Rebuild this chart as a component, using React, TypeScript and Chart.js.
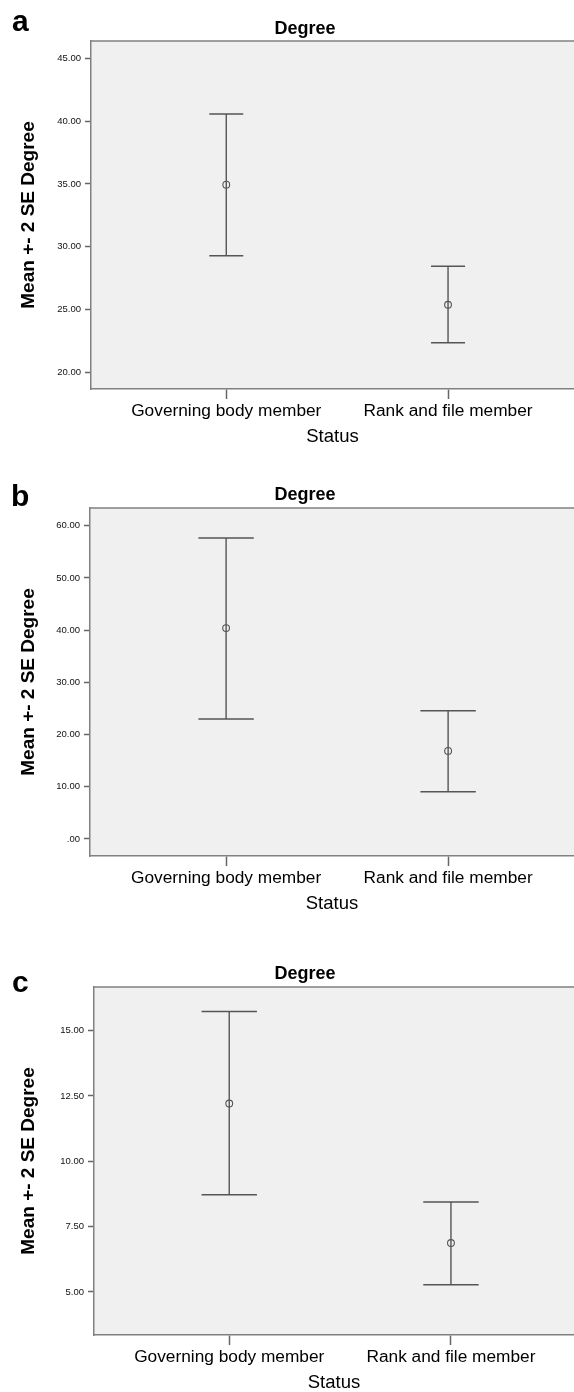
import React, { useEffect, useRef } from "react";
import { Chart, registerables } from "chart.js";

Chart.register(...registerables);

const FONT = "'Liberation Sans', Arial, Helvetica, sans-serif";
Chart.defaults.font.family = FONT;

// ---------- data ----------
const categories = ["Governing body member", "Rank and file member"];

const meanA = [34.94, 25.38];
const upperA = [40.57, 28.44];
const lowerA = [29.28, 22.36];
const ticksA = [20, 25, 30, 35, 40, 45];

const meanB = [40.39, 16.87];
const upperB = [57.64, 24.54];
const lowerB = [23.0, 9.07];
const ticksB = [0, 10, 20, 30, 40, 50, 60];

const meanC = [12.21, 6.87];
const upperC = [15.73, 8.44];
const lowerC = [8.72, 5.27];
const ticksC = [5, 7.5, 10, 12.5, 15];

const panelTitle = "Degree";
const yTitle = "Mean +- 2 SE Degree";
const xTitle = "Status";

// ---------- layout / style ----------
const LINE = "#555555";
const AXIS = "#808080";

type Panel = {
  letter: string;
  mean: number[];
  upper: number[];
  lower: number[];
  ticks: number[];
  yMin: number;
  yMax: number;
  xMin: number;
  xMax: number;
  height: number;
  padTop: number;
  padBottom: number;
  yWidth: number;
  capHalf: number;
  titleY: number;
  letterX: number;
  letterY: number;
};

const panels: Panel[] = [
  {
    letter: "a", mean: meanA, upper: upperA, lower: lowerA, ticks: ticksA,
    yMin: 18.67, yMax: 46.38, xMin: 0.39, xMax: 2.568,
    height: 465, padTop: 41, padBottom: 19, yWidth: 91, capHalf: 17,
    titleY: 33.5, letterX: 12, letterY: 30.7,
  },
  {
    letter: "b", mean: meanB, upper: upperB, lower: lowerB, ticks: ticksB,
    yMin: -3.26, yMax: 63.4, xMin: 0.387, xMax: 2.567,
    height: 477, padTop: 43, padBottom: 29, yWidth: 90, capHalf: 27.7,
    titleY: 35, letterX: 11, letterY: 41,
  },
  {
    letter: "c", mean: meanC, upper: upperC, lower: lowerC, ticks: ticksC,
    yMin: 3.35, yMax: 16.67, xMin: 0.39, xMax: 2.555,
    height: 450, padTop: 45, padBottom: 0, yWidth: 94, capHalf: 27.7,
    titleY: 37.3, letterX: 12, letterY: 49.7,
  },
];

const fmt = (v: number) => {
  const s = Number(v).toFixed(2);
  return s.startsWith("0.") ? s.slice(1) : s;
};

const panelDecor = {
  id: "panelDecor",
  beforeDraw(chart: any) {
    const { ctx, chartArea } = chart;
    ctx.save();
    ctx.fillStyle = "#f0f0f0";
    ctx.fillRect(chartArea.left, chartArea.top, chartArea.right - chartArea.left, chartArea.bottom - chartArea.top);
    ctx.restore();
  },
  afterDraw(chart: any, _args: any, opts: any) {
    const { ctx, chartArea } = chart;
    ctx.save();
    ctx.strokeStyle = AXIS;
    ctx.lineWidth = 1.5;
    ctx.beginPath();
    ctx.moveTo(chartArea.left, chartArea.top);
    ctx.lineTo(chartArea.right, chartArea.top);
    ctx.stroke();
    ctx.fillStyle = "#000";
    ctx.textBaseline = "alphabetic";
    ctx.textAlign = "center";
    ctx.font = `bold 18px ${FONT}`;
    ctx.fillText(opts.title, 305, opts.titleY);
    ctx.textAlign = "left";
    ctx.font = `bold 30px ${FONT}`;
    ctx.fillText(opts.letter, opts.letterX, opts.letterY);
    ctx.restore();
  },
};

function PanelChart({ p }: { p: Panel }) {
  const ref = useRef<HTMLCanvasElement | null>(null);
  useEffect(() => {
    if (!ref.current) return;
    const whiskers = categories.map((_, i) => ({
      data: [
        { x: i + 1, y: p.lower[i] },
        { x: i + 1, y: p.upper[i] },
      ],
      showLine: true,
      borderColor: LINE,
      borderWidth: 1.4,
      pointRadius: 0,
    }));
    const caps = {
      data: categories.flatMap((_, i) => [
        { x: i + 1, y: p.lower[i] },
        { x: i + 1, y: p.upper[i] },
      ]),
      showLine: false,
      pointStyle: "line",
      pointRadius: p.capHalf,
      pointBorderColor: LINE,
      pointBorderWidth: 1.5,
    };
    const means = {
      data: categories.map((_, i) => ({ x: i + 1, y: p.mean[i] })),
      showLine: false,
      pointStyle: "circle",
      pointRadius: 3.4,
      pointBackgroundColor: "rgba(0,0,0,0)",
      pointBorderColor: LINE,
      pointBorderWidth: 1.1,
    };
    const chart = new Chart(ref.current, {
      type: "scatter",
      data: { datasets: [...whiskers, caps, means] as any },
      plugins: [panelDecor as any],
      options: {
        animation: false,
        responsive: false,
        events: [],
        layout: { autoPadding: false, padding: { top: p.padTop, bottom: p.padBottom, left: 0, right: 0 } },
        plugins: {
          legend: { display: false },
          tooltip: { enabled: false },
          panelDecor: { title: panelTitle, titleY: p.titleY, letter: p.letter, letterX: p.letterX, letterY: p.letterY },
        } as any,
        scales: {
          x: {
            type: "linear",
            position: "bottom",
            min: p.xMin,
            max: p.xMax,
            afterBuildTicks: (s: any) => {
              s.ticks = categories.map((_, i) => ({ value: i + 1 }));
            },
            afterFit: (s: any) => {
              s.height = 57;
              s.paddingLeft = 0;
              s.paddingRight = 0;
            },
            ticks: {
              callback: (_v: any, i: number) => categories[i],
              font: { size: 17.3 },
              color: "#000",
              padding: 2,
              maxRotation: 0,
              autoSkip: false,
            },
            grid: { drawOnChartArea: false, drawTicks: true, tickLength: 10, tickColor: "#666", tickWidth: 1.5 },
            border: { display: true, color: AXIS, width: 1.5 },
            title: { display: true, text: xTitle, font: { size: 18.5, lineHeight: 1 }, color: "#000", padding: 0 },
          },
          y: {
            type: "linear",
            min: p.yMin,
            max: p.yMax,
            afterBuildTicks: (s: any) => {
              s.ticks = p.ticks.map((v) => ({ value: v }));
            },
            afterFit: (s: any) => {
              s.width = p.yWidth;
              s.paddingTop = 0;
              s.paddingBottom = 0;
            },
            ticks: {
              callback: (v: any) => fmt(v),
              font: { size: 9.5 },
              color: "#111",
              padding: 4,
            },
            grid: { drawOnChartArea: false, drawTicks: true, tickLength: 6, tickColor: "#666", tickWidth: 1.5 },
            border: { display: true, color: AXIS, width: 1.5 },
            title: { display: true, text: yTitle, font: { size: 19, weight: "bold" }, color: "#000", padding: { top: 17, bottom: 0 } },
          },
        },
      } as any,
    });
    return () => chart.destroy();
  }, [p]);
  return <canvas ref={ref} width={574} height={p.height} style={{ display: "block" }} />;
}

export default function App() {
  useEffect(() => {
    document.body.style.margin = "0";
  }, []);
  return (
    <div style={{ width: 574, background: "#fff" }}>
      {panels.map((p) => (
        <PanelChart key={p.letter} p={p} />
      ))}
    </div>
  );
}
